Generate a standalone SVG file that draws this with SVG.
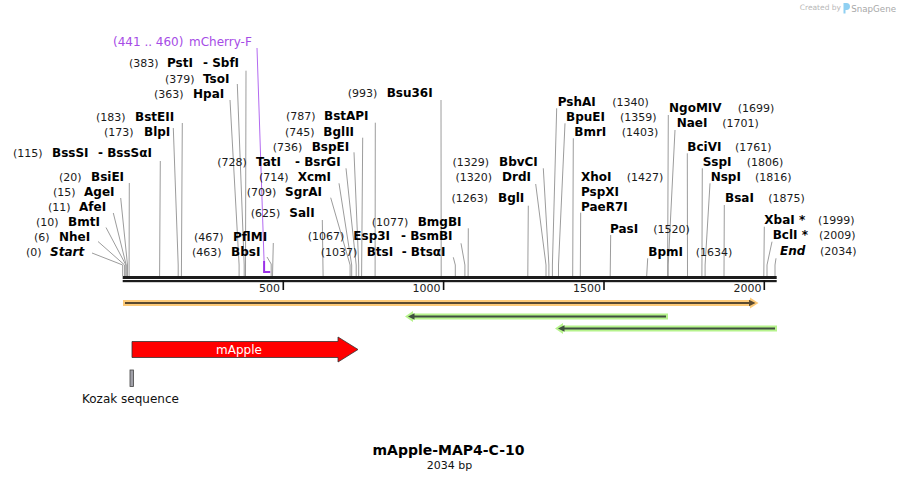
<svg xmlns="http://www.w3.org/2000/svg" width="900" height="481" viewBox="0 0 900 481">
<style>
text{font-family:"DejaVu Sans","Liberation Sans",sans-serif}
.num{font-size:11px;fill:#1a1a1a}
.nm{font-size:12px;font-weight:bold;fill:#000}
.it{font-style:italic}
.pl{font-size:12px;fill:#a64ce6}
#connectors polyline{stroke:#9c9c9c;stroke-width:1;fill:none}
.tick{fill:#111}
.sc{font-size:11px;fill:#222;text-anchor:end}
</style>
<rect width="900" height="481" fill="#fff"/>

<g id="credit">
<text x="841" y="10" text-anchor="end" style="font-size:7.5px;fill:#b8b8b8">Created by</text>
<path d="M843.5,3 h3 a3,3 0 0 1 0,7 h-1 v3.5 h-2 z" fill="#8fd0f2"/>
<text x="896" y="11.5" text-anchor="end" style="font-size:8.7px;fill:#a8a8a8">SnapGene</text>
</g>

<g id="connectors">
<polyline points="92,253 122.7,265 122.7,276"/>
<polyline points="98,241.5 124.6,265 124.6,276"/>
<polyline points="106,227.5 125.9,265 125.9,276"/>
<polyline points="113.3,213 126.2,265 126.2,276"/>
<polyline points="120.7,198 127.5,265 127.5,276"/>
<polyline points="129.3,183 129.1,265 129.1,276"/>
<polyline points="160.3,161 159.6,276"/>
<polyline points="173.3,128 178.2,265 178.2,276"/>
<polyline points="182.3,123 181.4,276"/>
<polyline points="230,100 239.1,265 239.1,276"/>
<polyline points="237.3,84 244.2,265 244.2,276"/>
<polyline points="246,70.7 245.5,276"/>
<polyline points="273.3,243 272.5,276"/>
<polyline points="267,257 271.2,264 271.2,276"/>
<polyline points="322.3,220 323.1,276"/>
<polyline points="330.7,197.7 350.1,265 350.1,276"/>
<polyline points="339,183.3 351.7,265 351.7,276"/>
<polyline points="346,168.3 356.2,265 356.2,276"/>
<polyline points="354,152.3 358.7,265 358.7,276"/>
<polyline points="362.7,137.7 361.6,276"/>
<polyline points="375.3,122.7 375.1,276"/>
<polyline points="441,100 441.2,276"/>
<polyline points="468.3,228.3 468.1,276"/>
<polyline points="461,243.3 464.9,265 464.9,276"/>
<polyline points="453.3,257.3 455.3,265 455.3,276"/>
<polyline points="528.3,205.7 527.8,276"/>
<polyline points="535.7,184 546,265 546,276"/>
<polyline points="543.3,168.3 548.9,265 548.9,276"/>
<polyline points="556.7,108.3 552.4,265 552.4,276"/>
<polyline points="565,123.3 558.5,265 558.5,276"/>
<polyline points="573.3,138.3 572.7,276"/>
<polyline points="580.7,212.7 580.3,276"/>
<polyline points="610.7,235 610.2,276"/>
<polyline points="647.7,258.3 646.7,276"/>
<polyline points="668.3,115 667.6,276"/>
<polyline points="675,130 668.2,265 668.2,276"/>
<polyline points="687.3,153.3 687.5,276"/>
<polyline points="702.3,168.3 701.9,276"/>
<polyline points="710,183.3 705.1,265 705.1,276"/>
<polyline points="724.3,205 724,276"/>
<polyline points="764.3,226.7 763.8,276"/>
<polyline points="772,241.7 767,265 767,276"/>
<polyline points="776,258.3 775,265 775,276"/>
<polyline points="257,48 264.1,262" style="stroke:#b36af0"/>
<polyline points="264.1,261 264.1,272 270.2,272" style="stroke:#9b30e8;stroke-width:2"/>
</g>

<g id="backbone">
<rect x="122.7" y="276" width="654" height="3" fill="#1c1c1c"/>
<rect x="122.7" y="280" width="654" height="2.2" fill="#1c1c1c"/>
<rect class="tick" x="282.5" y="280" width="1.6" height="10"/>
<rect class="tick" x="442.8" y="280" width="1.6" height="10"/>
<rect class="tick" x="603.2" y="280" width="1.6" height="10"/>
<rect class="tick" x="763.5" y="280" width="1.6" height="10"/>
<text class="sc" x="280" y="292">500</text>
<text class="sc" x="440.5" y="292">1000</text>
<text class="sc" x="601" y="292">1500</text>
<text class="sc" x="761.5" y="292">2000</text>
</g>

<g id="site-start"><text y="256"><tspan class="num" x="26">(0)</tspan><tspan class="nm it" x="50">Start</tspan></text></g>
<g id="site-NheI"><text y="241"><tspan class="num" x="34">(6)</tspan><tspan class="nm" x="59">NheI</tspan></text></g>
<g id="site-BmtI"><text y="226"><tspan class="num" x="36">(10)</tspan><tspan class="nm" x="68">BmtI</tspan></text></g>
<g id="site-AfeI"><text y="211"><tspan class="num" x="48">(11)</tspan><tspan class="nm" x="79">AfeI</tspan></text></g>
<g id="site-AgeI"><text y="196"><tspan class="num" x="53">(15)</tspan><tspan class="nm" x="84">AgeI</tspan></text></g>
<g id="site-BsiEI"><text y="181"><tspan class="num" x="59">(20)</tspan><tspan class="nm" x="91">BsiEI</tspan></text></g>
<g id="site-BssSI"><text y="157.3"><tspan class="num" x="13">(115)</tspan><tspan class="nm" x="52">BssSI</tspan><tspan class="nm" x="98">- BssSαI</tspan></text></g>
<g id="site-BlpI"><text y="136"><tspan class="num" x="104">(173)</tspan><tspan class="nm" x="144">BlpI</tspan></text></g>
<g id="site-BstEII"><text y="120.7"><tspan class="num" x="96">(183)</tspan><tspan class="nm" x="135">BstEII</tspan></text></g>
<g id="site-HpaI"><text y="97.7"><tspan class="num" x="154">(363)</tspan><tspan class="nm" x="193">HpaI</tspan></text></g>
<g id="site-TsoI"><text y="82.7"><tspan class="num" x="165">(379)</tspan><tspan class="nm" x="203">TsoI</tspan></text></g>
<g id="site-PstI"><text y="67.3"><tspan class="num" x="129">(383)</tspan><tspan class="nm" x="167">PstI</tspan><tspan class="nm" x="203">- SbfI</tspan></text></g>
<g id="primer-mCherry-F"><text y="45.7"><tspan class="pl" x="113">(441 .. 460)</tspan><tspan class="pl" x="189">mCherry-F</tspan></text></g>
<g id="site-PflMI"><text y="241"><tspan class="num" x="194">(467)</tspan><tspan class="nm" x="233">PflMI</tspan></text></g>
<g id="site-BbsI"><text y="255.5"><tspan class="num" x="192">(463)</tspan><tspan class="nm" x="231">BbsI</tspan></text></g>
<g id="site-SalI"><text y="217.3"><tspan class="num" x="250.7">(625)</tspan><tspan class="nm" x="289.3">SalI</tspan></text></g>
<g id="site-SgrAI"><text y="195.7"><tspan class="num" x="246.7">(709)</tspan><tspan class="nm" x="285">SgrAI</tspan></text></g>
<g id="site-XcmI"><text y="180.7"><tspan class="num" x="259">(714)</tspan><tspan class="nm" x="297.7">XcmI</tspan></text></g>
<g id="site-TatI"><text y="165.7"><tspan class="num" x="217.3">(728)</tspan><tspan class="nm" x="256">TatI</tspan><tspan class="nm" x="295">- BsrGI</tspan></text></g>
<g id="site-BspEI"><text y="150.7"><tspan class="num" x="272.7">(736)</tspan><tspan class="nm" x="311.7">BspEI</tspan></text></g>
<g id="site-BglII"><text y="135.7"><tspan class="num" x="285">(745)</tspan><tspan class="nm" x="323.3">BglII</tspan></text></g>
<g id="site-BstAPI"><text y="120"><tspan class="num" x="286">(787)</tspan><tspan class="nm" x="324">BstAPI</tspan></text></g>
<g id="site-Bsu36I"><text y="97.3"><tspan class="num" x="347.7">(993)</tspan><tspan class="nm" x="386.7">Bsu36I</tspan></text></g>
<g id="site-BmgBI"><text y="225.7"><tspan class="num" x="371.7">(1077)</tspan><tspan class="nm" x="417.7">BmgBI</tspan></text></g>
<g id="site-Esp3I"><text y="240"><tspan class="num" x="307.7">(1067)</tspan><tspan class="nm" x="353.3">Esp3I</tspan><tspan class="nm" x="401">- BsmBI</tspan></text></g>
<g id="site-BtsI"><text y="255.7"><tspan class="num" x="320.7">(1037)</tspan><tspan class="nm" x="366.7">BtsI</tspan><tspan class="nm" x="401.7">- BtsαI</tspan></text></g>
<g id="site-BglI"><text y="202.3"><tspan class="num" x="451.5">(1263)</tspan><tspan class="nm" x="498">BglI</tspan></text></g>
<g id="site-DrdI"><text y="180.7"><tspan class="num" x="455.4">(1320)</tspan><tspan class="nm" x="502">DrdI</tspan></text></g>
<g id="site-BbvCI"><text y="166"><tspan class="num" x="452.4">(1329)</tspan><tspan class="nm" x="499">BbvCI</tspan></text></g>
<g id="site-PshAI"><text y="105.7"><tspan class="nm" x="557.7">PshAI</tspan><tspan class="num" x="612.3">(1340)</tspan></text></g>
<g id="site-BpuEI"><text y="120.7"><tspan class="nm" x="566">BpuEI</tspan><tspan class="num" x="620">(1359)</tspan></text></g>
<g id="site-BmrI"><text y="135.7"><tspan class="nm" x="574.3">BmrI</tspan><tspan class="num" x="621.7">(1403)</tspan></text></g>
<g id="site-XhoI"><text y="180.7"><tspan class="nm" x="581">XhoI</tspan><tspan class="num" x="626.7">(1427)</tspan></text><text class="nm" x="581" y="195.7">PspXI</text><text class="nm" x="581" y="210.7">PaeR7I</text></g>
<g id="site-PasI"><text y="232.7"><tspan class="nm" x="610">PasI</tspan><tspan class="num" x="653.3">(1520)</tspan></text></g>
<g id="site-BpmI"><text y="255.7"><tspan class="nm" x="648.3">BpmI</tspan><tspan class="num" x="695.7">(1634)</tspan></text></g>
<g id="site-NgoMIV"><text y="112.3"><tspan class="nm" x="669">NgoMIV</tspan><tspan class="num" x="737.7">(1699)</tspan></text></g>
<g id="site-NaeI"><text y="127.3"><tspan class="nm" x="676.7">NaeI</tspan><tspan class="num" x="722.3">(1701)</tspan></text></g>
<g id="site-BciVI"><text y="150.7"><tspan class="nm" x="687.3">BciVI</tspan><tspan class="num" x="735">(1761)</tspan></text></g>
<g id="site-SspI"><text y="165.7"><tspan class="nm" x="702.7">SspI</tspan><tspan class="num" x="746.7">(1806)</tspan></text></g>
<g id="site-NspI"><text y="180.7"><tspan class="nm" x="710.7">NspI</tspan><tspan class="num" x="755">(1816)</tspan></text></g>
<g id="site-BsaI"><text y="202.3"><tspan class="nm" x="725">BsaI</tspan><tspan class="num" x="768.3">(1875)</tspan></text></g>
<g id="site-XbaI"><text y="224.3"><tspan class="nm" x="764.3">XbaI *</tspan><tspan class="num" x="818">(1999)</tspan></text></g>
<g id="site-BclI"><text y="239.3"><tspan class="nm" x="772.7">BclI *</tspan><tspan class="num" x="819">(2009)</tspan></text></g>
<g id="site-end"><text y="255"><tspan class="nm it" x="780">End</tspan><tspan class="num" x="820">(2034)</tspan></text></g>

<g id="feature-orange">
<polygon points="123,300 750,300 750,297.5 758.5,303 750,308.5 750,306 123,306" fill="#fdca78"/>
<line x1="125" y1="303" x2="750" y2="303" stroke="#5a4a30" stroke-width="2"/>
<polygon points="749,299.8 755.5,303 749,306.2" fill="#5a4a30"/>
</g>
<g id="feature-green1">
<polygon points="405,316.5 413,311 413,313.5 668,313.5 668,319.5 413,319.5 413,322" fill="#b6f38c"/>
<line x1="413" y1="316.5" x2="666" y2="316.5" stroke="#3f4f3f" stroke-width="2"/>
<polygon points="408,316.5 414.5,313.2 414.5,319.8" fill="#3f4f3f"/>
</g>
<g id="feature-green2">
<polygon points="555,328.5 563,323 563,325.5 777,325.5 777,331.5 563,331.5 563,334" fill="#b6f38c"/>
<line x1="563" y1="328.5" x2="775" y2="328.5" stroke="#3f4f3f" stroke-width="2"/>
<polygon points="558,328.5 564.5,325.2 564.5,331.8" fill="#3f4f3f"/>
</g>
<g id="feature-mApple">
<polygon points="132,341.5 338,341.5 338,337 358,349.5 338,362 338,357.5 132,357.5" fill="#ff0000" stroke="#333" stroke-width="0.8"/>
<text x="239" y="353.5" text-anchor="middle" style="font-size:12px;fill:#fff">mApple</text>
</g>
<g id="feature-kozak">
<rect x="130" y="370" width="3.5" height="16.5" fill="#a0a0a8" stroke="#444" stroke-width="0.8"/>
<text x="82" y="403" style="font-size:12px;fill:#111">Kozak sequence</text>
</g>

<g id="title">
<text x="448.5" y="455" text-anchor="middle" style="font-size:14px;font-weight:bold;fill:#000">mApple-MAP4-C-10</text>
<text x="449.5" y="469.3" text-anchor="middle" style="font-size:11px;fill:#111">2034 bp</text>
</g>
</svg>
